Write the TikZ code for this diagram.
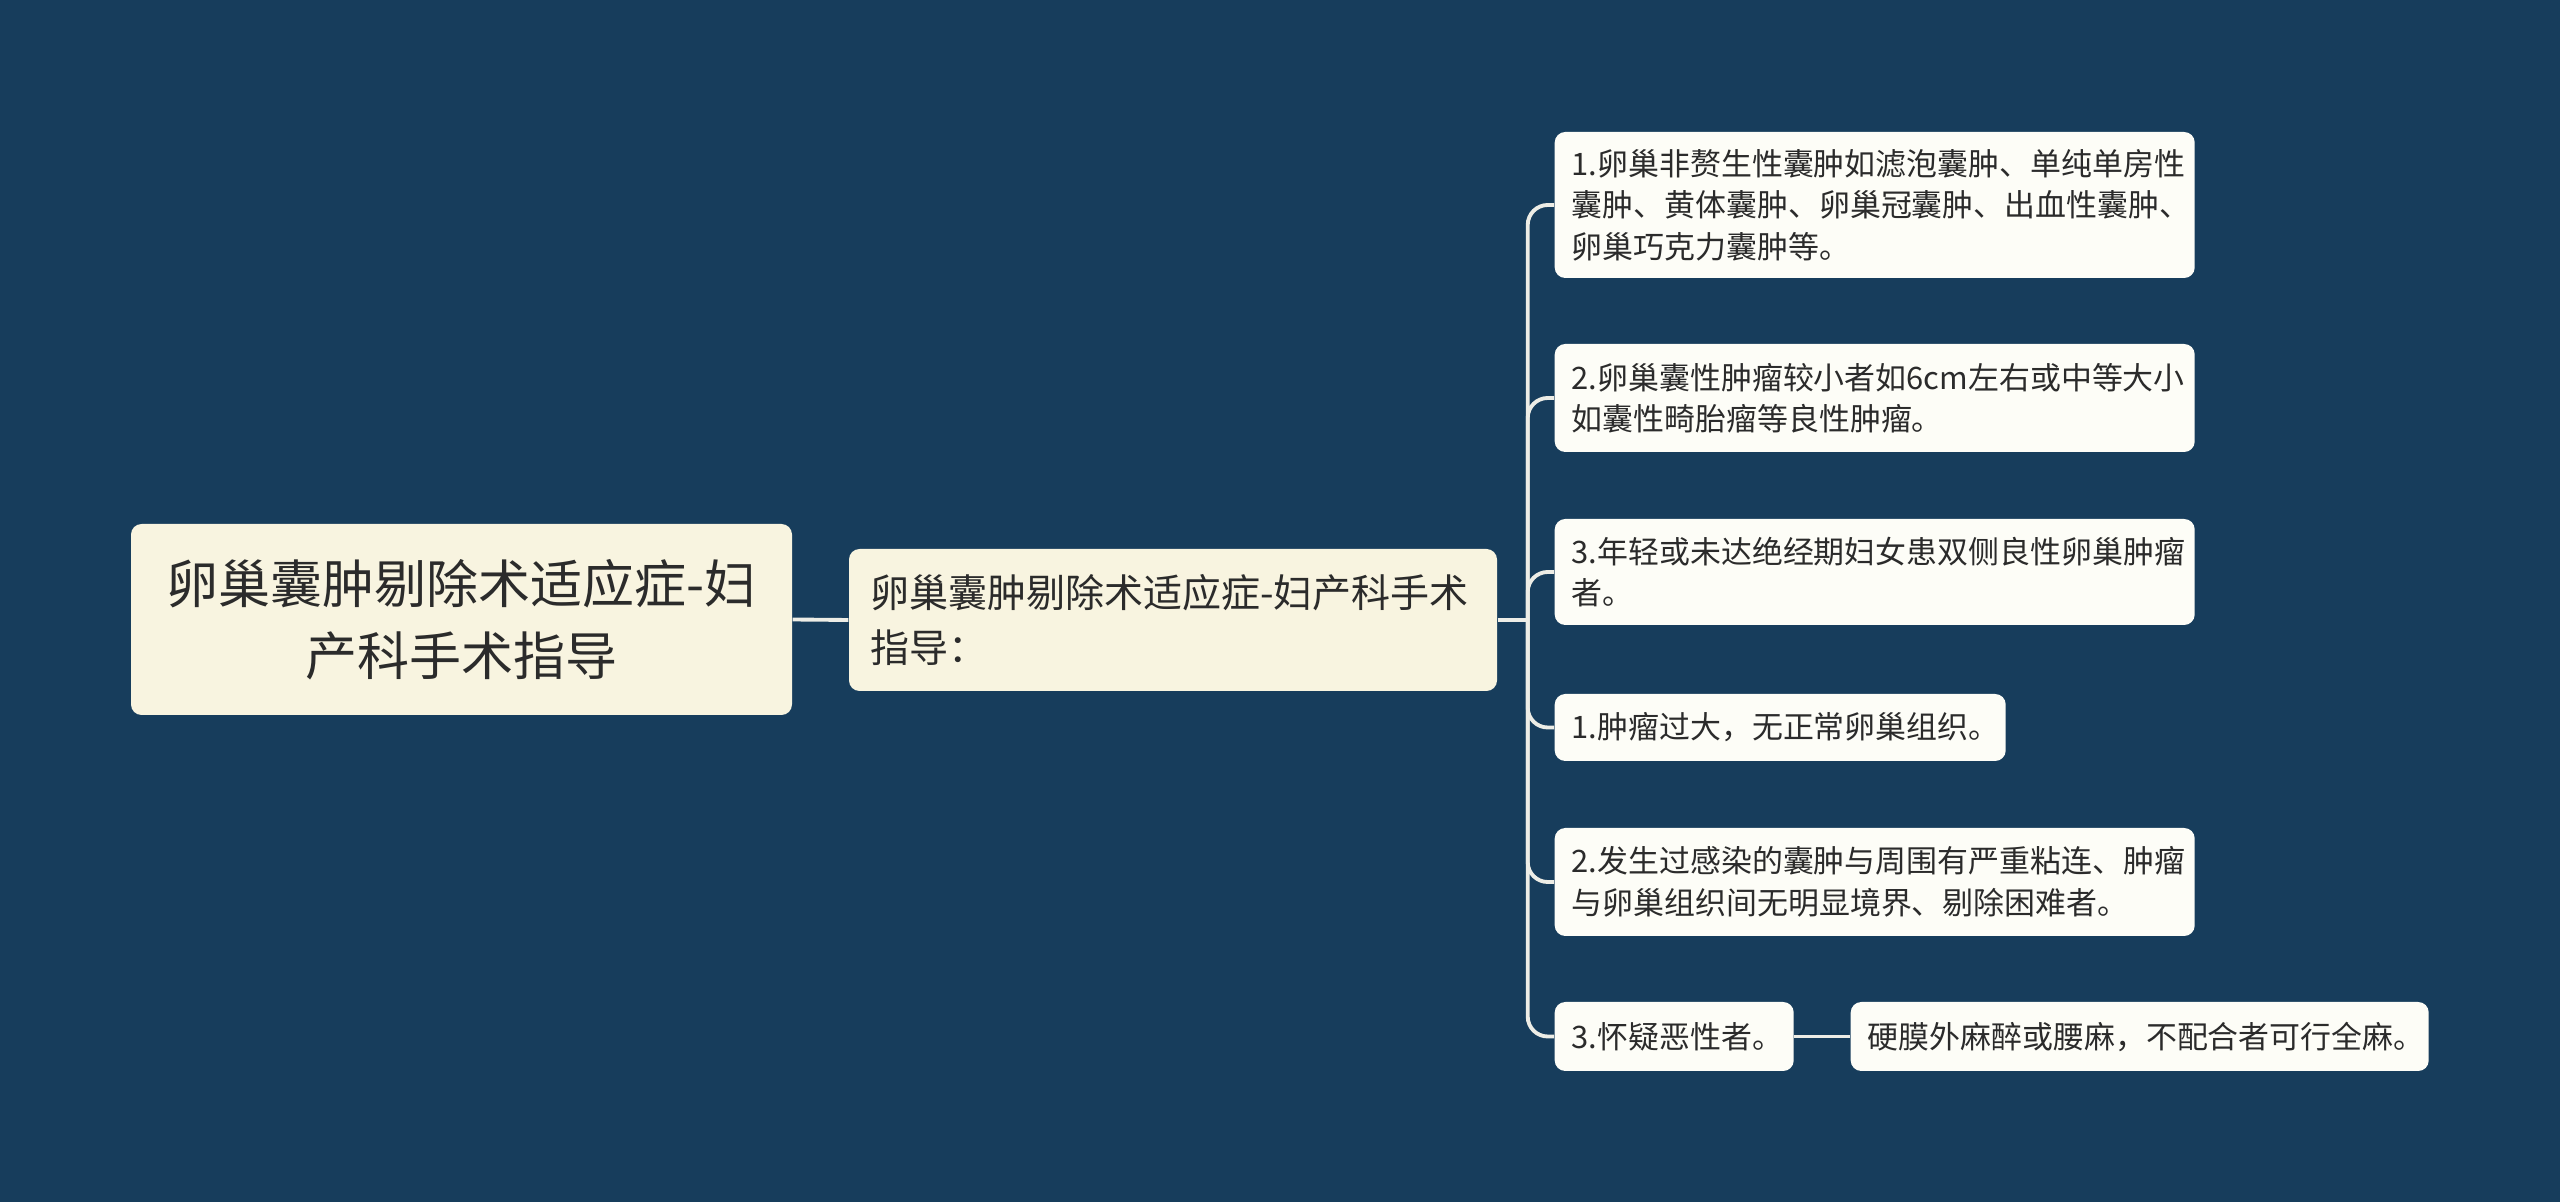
\documentclass[tikz,border=0pt]{standalone}
\usepackage{fontspec}
\newfontfamily\cjk{Noto Sans CJK SC}
\usepackage{tikz}

\definecolor{bgcol}{HTML}{173D5C}
\definecolor{rootcol}{HTML}{F8F4E0}
\definecolor{leafcol}{HTML}{FDFDF7}
\definecolor{inkcol}{HTML}{2B2B2B}
\definecolor{linkcol}{HTML}{EDEDE6}

\tikzset{
  box/.style={rounded corners=3pt, text=inkcol, inner ysep=0pt},
  rootbox/.style={box, fill=rootcol, align=center, inner xsep=0pt,
    font=\cjk\fontsize{14.8pt}{20.5pt}\selectfont},
  midbox/.style={box, fill=rootcol, align=left, inner xsep=0.21cm,
    font=\cjk\fontsize{11.1pt}{15.8pt}\selectfont},
  leafbox/.style={box, fill=leafcol, align=left, inner xsep=0.17cm, anchor=west,
    font=\cjk\fontsize{8.8pt}{11.8pt}\selectfont},
  link/.style={draw=linkcol, line width=1.1pt, rounded corners=0.2cm}
}

\begin{document}
\begin{tikzpicture}

\def\Wd{25.6}
\def\Ht{12.02}
\def\Lx{15.54}

\useasboundingbox (0,0) rectangle (\Wd,-\Ht);
\fill[bgcol] (0,0) rectangle (\Wd,-\Ht);

% root and middle
\node[rootbox, text width=6.61cm, minimum height=1.91cm] (root) at (4.615,-6.195)
  {卵巢囊肿剔除术适应症-妇\\产科手术指导};
\node[midbox, text width=6.06cm, minimum height=1.42cm] (mid) at (11.73,-6.20)
  {卵巢囊肿剔除术适应症-妇产科手术\\指导：};

% leaves
\node[leafbox, text width=6.06cm, minimum height=1.46cm] (leafa) at (\Lx,-2.05)
  {1.卵巢非赘生性囊肿如滤泡囊肿、单纯单房性\\囊肿、黄体囊肿、卵巢冠囊肿、出血性囊肿、\\卵巢巧克力囊肿等。};
\node[leafbox, text width=6.06cm, minimum height=1.08cm] (leafb) at (\Lx,-3.98)
  {2.卵巢囊性肿瘤较小者如6cm左右或中等大小\\如囊性畸胎瘤等良性肿瘤。};
\node[leafbox, text width=6.06cm, minimum height=1.06cm] (leafc) at (\Lx,-5.72)
  {3.年轻或未达绝经期妇女患双侧良性卵巢肿瘤\\者。};
\node[leafbox, text width=4.17cm, minimum height=0.67cm] (leafd) at (\Lx,-7.275)
  {1.肿瘤过大，无正常卵巢组织。};
\node[leafbox, text width=6.06cm, minimum height=1.08cm] (leafe) at (\Lx,-8.82)
  {2.发生过感染的囊肿与周围有严重粘连、肿瘤\\与卵巢组织间无明显境界、剔除困难者。};
\node[leafbox, text width=2.05cm, minimum height=0.69cm] (leaff) at (\Lx,-10.365)
  {3.怀疑恶性者。};
\node[leafbox, text width=5.44cm, minimum height=0.69cm] (leafg) at (18.50,-10.365)
  {硬膜外麻醉或腰麻，不配合者可行全麻。};

% connectors
\coordinate (trunk) at ([xshift=0.30cm]mid.east);
\draw[link] (root.east) -- (mid.west);
\draw[link] (mid.east) -- (trunk);
\foreach \leaf in {leafa,leafb,leafc,leafd,leafe,leaff}
  \draw[link] (trunk) |- (\leaf.west);
\draw[link] (leaff.east) -- (leafg.west);

\end{tikzpicture}
\end{document}
